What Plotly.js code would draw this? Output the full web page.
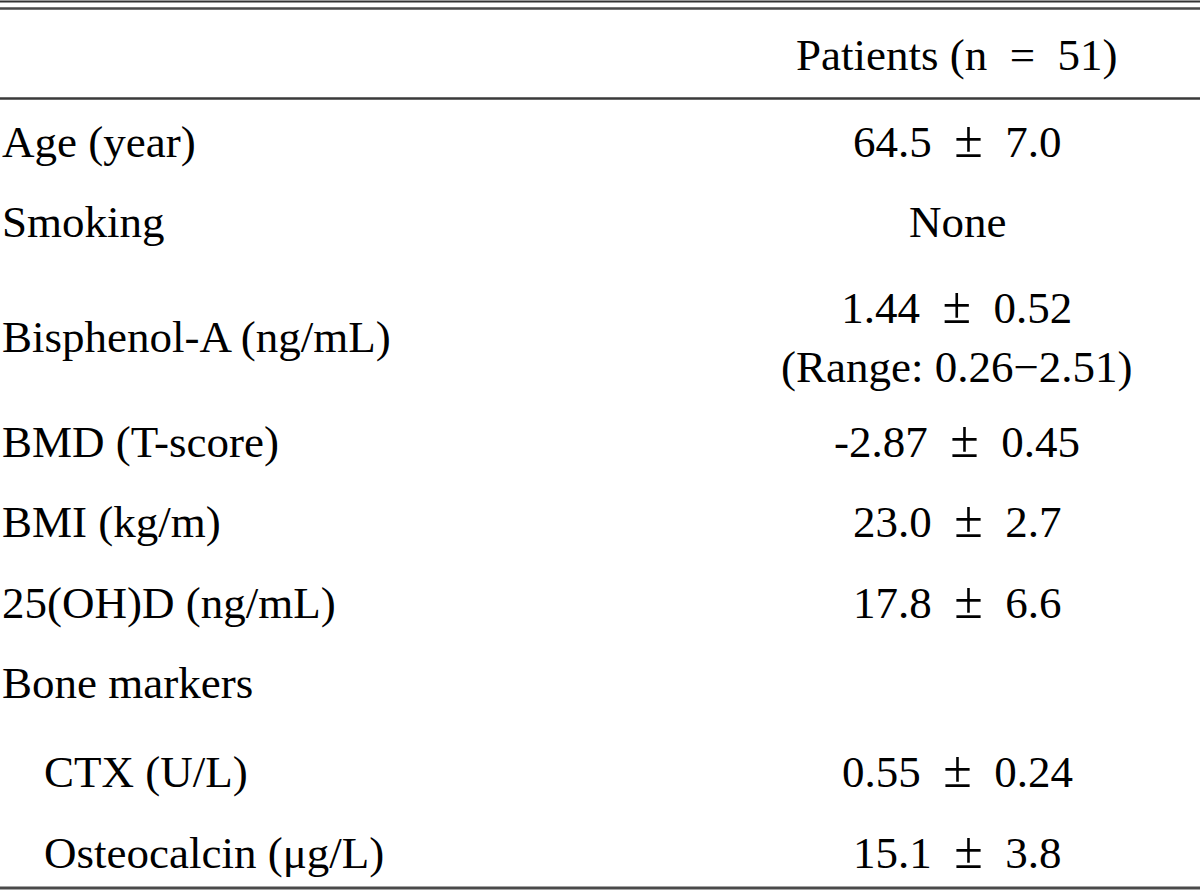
<!DOCTYPE html>
<html>
<head>
<meta charset="utf-8">
<script src="https://cdn.plot.ly/plotly-3.0.1.min.js"></script>
<style>html,body{margin:0;padding:0;background:#fff;}#chart{width:1200px;height:896px;}</style>
</head>
<body>
<div id="chart"></div>
<script>
// ---- table content ----
var headerLabel = "Patients (n\u00a0\u00a0=\u00a0\u00a051)";
var rowLabels = [
  "Age (year)",
  "Smoking",
  "Bisphenol-A (ng/mL)",
  "BMD (T-score)",
  "BMI (kg/m)",
  "25(OH)D (ng/mL)",
  "Bone markers",
  "CTX (U/L)",
  "Osteocalcin (\u03bcg/L)"
];
var rowIndent = [0, 0, 0, 0, 0, 0, 0, 1, 1];
var rowMean = ["64.5", "", "1.44", "-2.87", "23.0", "17.8", "", "0.55", "15.1"];
var rowSD   = ["7.0",  "", "0.52", "0.45",  "2.7",  "6.6",  "", "0.24", "3.8"];
var rowOther = ["", "None", "", "", "", "", "", "", ""];
var rowExtra = ["", "", "(Range: 0.26\u22122.51)", "", "", "", "", "", ""];

// ---- layout (positions in pixel-like axis units) ----
var W = 1200, H = 896;
var rowY = [142, 222, 337, 442, 522, 603, 683, 772, 853];
var headerY = 55;
var labelX = 0, indentX = 42, valueX = 957;
var FONT = {family: "'Liberation Serif', 'Times New Roman', Times, serif", size: 45, color: "#000"};
var PM = "\u00a0\u00a0<span style='font-size:52px'>\u00b1</span>\u00a0\u00a0";

function valueText(i) {
  if (rowOther[i]) return rowOther[i];
  if (!rowMean[i]) return "";
  var t = rowMean[i] + PM + rowSD[i];
  if (rowExtra[i]) t += "<br>" + rowExtra[i];
  return t;
}

var annotations = [];
annotations.push({x: valueX, y: headerY, xref: "x", yref: "y", text: headerLabel,
  showarrow: false, xanchor: "center", yanchor: "middle", font: FONT});
rowLabels.forEach(function (lab, i) {
  annotations.push({x: rowIndent[i] ? indentX : labelX, y: rowY[i], xref: "x", yref: "y",
    text: lab, showarrow: false, xanchor: "left", yanchor: "middle", font: FONT});
  var v = valueText(i);
  if (v) {
    annotations.push({x: valueX, y: rowY[i], xref: "x", yref: "y", text: v,
      showarrow: false, xanchor: "center", yanchor: "middle", align: "center", font: FONT,
      yshift: rowMean[i] ? 3 : 0});
  }
});

function hline(y, w, c) {
  return {type: "line", xref: "x", yref: "y", x0: 0, x1: W, y0: y, y1: y,
    line: {color: c || "#3a3a3a", width: w}};
}
var shapes = [hline(1.5, 2, "#333"), hline(8.5, 2.5, "#4a4a4a"), hline(98.5, 2.5, "#3a3a3a"), hline(888, 3, "#4a4a4a")];

var layout = {
  width: W, height: H,
  margin: {l: 0, r: 0, t: 0, b: 0},
  paper_bgcolor: "#fff", plot_bgcolor: "#fff",
  xaxis: {range: [0, W], visible: false, fixedrange: true},
  yaxis: {range: [H, 0], visible: false, fixedrange: true},
  showlegend: false,
  annotations: annotations,
  shapes: shapes
};
Plotly.newPlot("chart", [{x: [], y: [], type: "scatter", mode: "markers", hoverinfo: "skip"}], layout, {staticPlot: true});
</script>
</body>
</html>
